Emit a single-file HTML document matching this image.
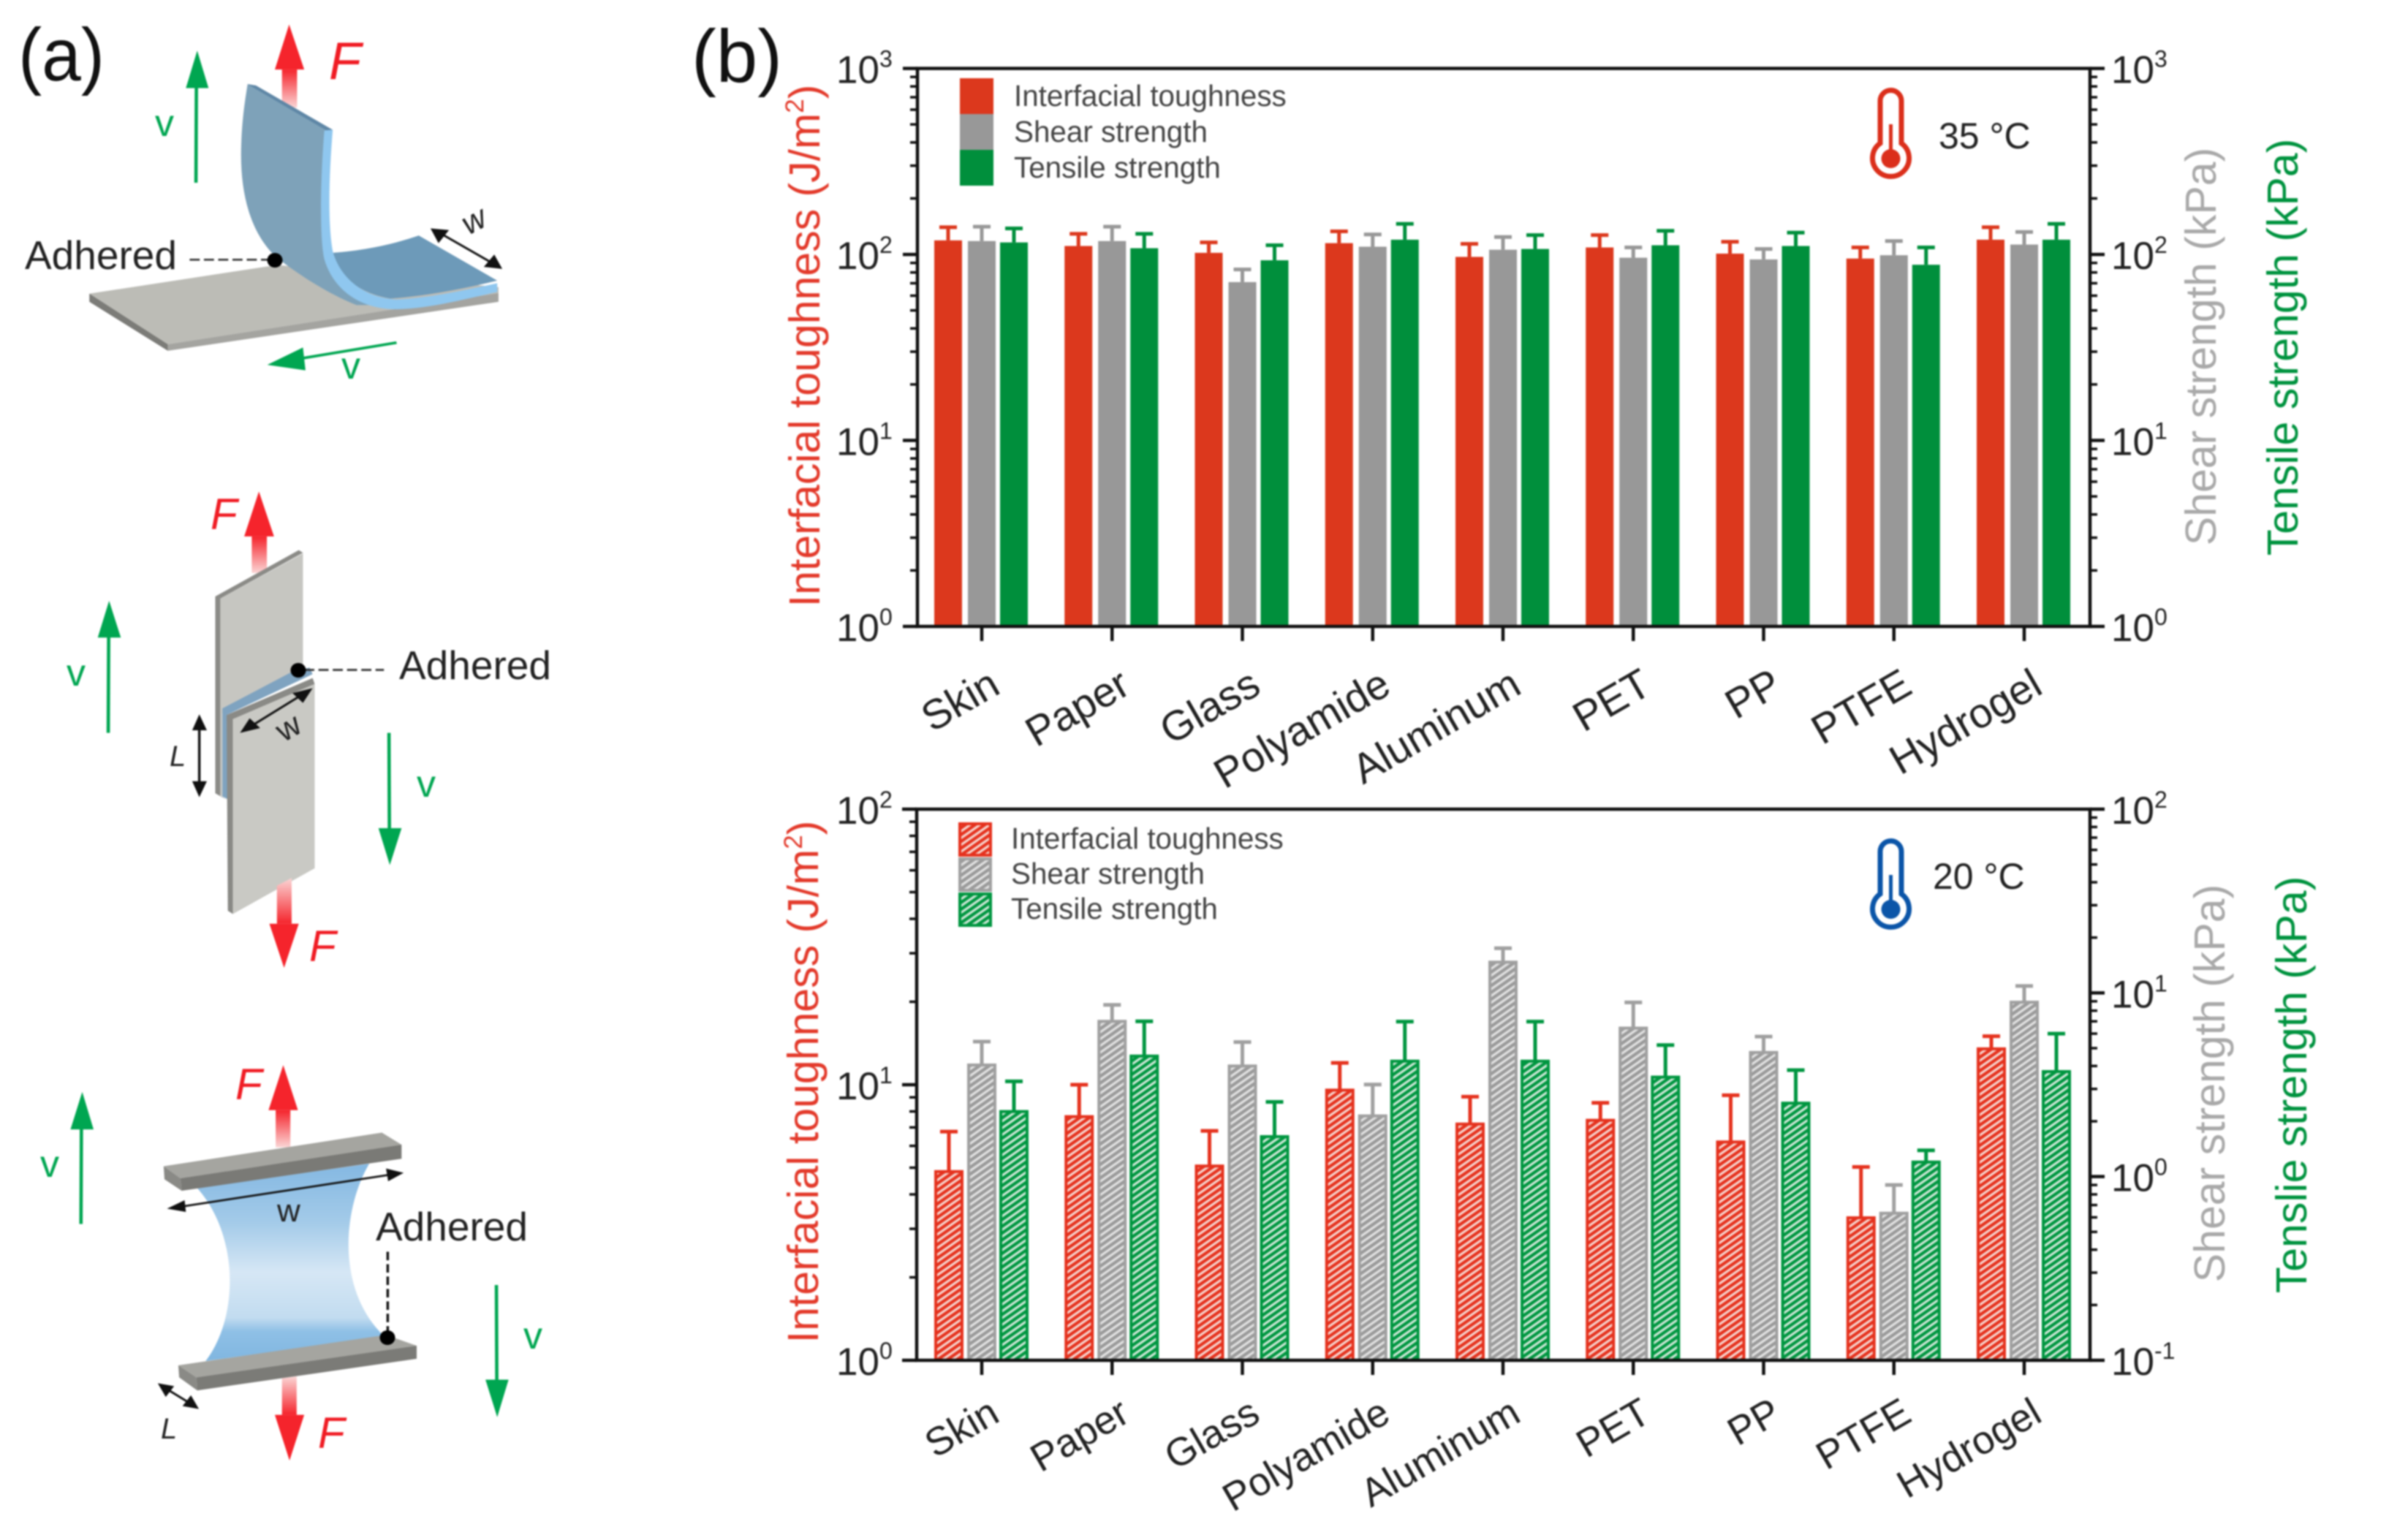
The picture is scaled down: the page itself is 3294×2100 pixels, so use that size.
<!DOCTYPE html>
<html>
<head>
<meta charset="utf-8">
<title>Adhesion test schematics and bar charts</title>
<style>
html,body{margin:0;padding:0;background:#fff;width:3294px;height:2100px;overflow:hidden}
svg{display:block;font-family:"Liberation Sans",sans-serif}
#root{filter:blur(1.1px)}
</style>
</head>
<body>
<svg id="figure" xmlns="http://www.w3.org/2000/svg" width="3294" height="2100" viewBox="0 0 3294 2100">
<defs>
<linearGradient id="fade-up" x1="0" y1="0" x2="0" y2="1"><stop offset="0" stop-color="#f5242c"/><stop offset="1" stop-color="#fbd5d5"/></linearGradient>
<linearGradient id="fade-down" x1="0" y1="0" x2="0" y2="1"><stop offset="0" stop-color="#fbd5d5"/><stop offset="1" stop-color="#f5242c"/></linearGradient>
<linearGradient id="gel" x1="0" y1="0" x2="0" y2="1">
<stop offset="0" stop-color="#84b8e2"/><stop offset="0.3" stop-color="#a4cbe9"/><stop offset="0.55" stop-color="#d6e7f5"/><stop offset="0.78" stop-color="#c2dcf0"/><stop offset="0.85" stop-color="#8fc0e6"/><stop offset="1" stop-color="#80b6e0"/>
</linearGradient>
<pattern id="hatch-red" patternUnits="userSpaceOnUse" width="7.6" height="7.6" patternTransform="rotate(55)"><rect width="7.6" height="7.6" fill="#f6d6d0"/><rect width="4.4" height="7.6" fill="#e5321e"/></pattern>
<pattern id="hatch-gray" patternUnits="userSpaceOnUse" width="7.6" height="7.6" patternTransform="rotate(55)"><rect width="7.6" height="7.6" fill="#e2e2e2"/><rect width="4.4" height="7.6" fill="#9a9a9a"/></pattern>
<pattern id="hatch-green" patternUnits="userSpaceOnUse" width="7.6" height="7.6" patternTransform="rotate(55)"><rect width="7.6" height="7.6" fill="#cfe8d8"/><rect width="4.4" height="7.6" fill="#009640"/></pattern>
</defs>
<rect width="3294" height="2100" fill="#fff"/>
<g id="root">

<text x="25" y="110" font-size="102" fill="#111" textLength="118" lengthAdjust="spacingAndGlyphs">(a)</text>
<text x="946" y="112" font-size="102" fill="#111" textLength="124" lengthAdjust="spacingAndGlyphs">(b)</text>

<!-- Peel test -->
<g>
<g transform="matrix(0.574,0,0,0.4464,0,0)">
<polygon points="672,213 708,213 708,330 672,330" fill="url(#fade-up)"/>
<polygon points="689,75 725,213 655,213" fill="#f5242c"/>
<polygon points="213,900 660,812 1188,880 1188,898 400,1055" fill="#bcbcb6"/>
<polygon points="213,900 400,1055 400,1075 213,925" fill="#7c7c78"/>
<polygon points="400,1055 1188,898 1188,925 400,1075" fill="#a4a4a0"/>
<path d="M790,775 Q900,765 998,722 L1185,860 Q1040,905 930,915 Q820,890 790,775 Z" fill="#6d9ab9"/>
<path d="M590,258 L610,262 L780,398 C772,520 765,690 780,770 C795,850 840,905 900,935 L850,935 C790,905 720,850 660,790 C600,720 570,600 575,440 C577,360 585,300 590,258 Z" fill="#7ea2b9"/>
<path d="M590,258 L610,262 L793,398 L778,400 Z" fill="#5f87a6"/>
<path d="M773,400 L793,398 C785,520 780,680 793,770 C810,850 865,912 945,918 C1030,912 1110,888 1185,868 L1185,895 C1110,915 1030,945 945,948 C860,948 795,890 773,795 C760,720 765,520 773,400 Z" fill="#8fc7ef"/>
<line x1="467" y1="560" x2="468" y2="265" stroke="#00a651" stroke-width="8"/>
<polygon points="470,155 497,270 443,270" fill="#00a651"/>
<line x1="945" y1="1050" x2="720" y2="1098" stroke="#00a651" stroke-width="8"/>
<polygon points="637,1118 722,1065 728,1135" fill="#00a651"/>
<line x1="452" y1="796" x2="640" y2="796" stroke="#333" stroke-width="6" stroke-dasharray="24 10"/>
<line x1="1040" y1="708" x2="1185" y2="815" stroke="#111" stroke-width="6"/>
<polygon points="1026,700 1070,705 1045,745" fill="#111"/>
<polygon points="1197,824 1153,818 1178,780" fill="#111"/>
</g>
<ellipse cx="376" cy="356" rx="10.5" ry="10" fill="#000"/>
<text x="450" y="108" font-size="72" font-style="italic" fill="#f01c24">F</text>
<text x="212" y="186" font-size="52" fill="#00a651">v</text>
<text x="467" y="518" font-size="52" fill="#00a651">v</text>
<text x="34" y="368" font-size="55" fill="#222">Adhered</text>
<text transform="translate(641,322) rotate(-28)" font-size="44" font-style="italic" fill="#222">w</text>
</g>

<!-- Lap shear -->
<g>
<g transform="matrix(0.574,0,0,0.4464,0,650)">
<polygon points="600,188 636,188 636,300 600,300" fill="url(#fade-up)"/>
<polygon points="617,50 653,188 582,188" fill="#f5242c"/>
<polygon points="525,378 722,240 722,600 530,730 530,985 525,980" fill="#c6c6c1"/>
<polygon points="513,372 712,230 722,238 525,378 525,982 540,995 513,975" fill="#8b8b87"/>
<polygon points="530,715 700,600 738,590 745,610 540,735 545,995 530,985" fill="#7fa3c0"/>
<polygon points="540,735 745,622 750,640 555,748 555,1345 543,1335" fill="#8a8a86"/>
<polygon points="555,748 750,640 750,1205 555,1345" fill="#c9c9c4"/>
<polygon points="660,1258 695,1235 695,1375 660,1375" fill="url(#fade-down)"/>
<polygon points="677,1510 642,1375 712,1375" fill="#f5242c"/>
<line x1="258" y1="790" x2="259" y2="490" stroke="#00a651" stroke-width="8"/>
<polygon points="260,385 288,498 233,498" fill="#00a651"/>
<line x1="927" y1="790" x2="928" y2="1090" stroke="#00a651" stroke-width="8"/>
<polygon points="929,1195 902,1082 957,1082" fill="#00a651"/>
<line x1="725" y1="597" x2="915" y2="597" stroke="#333" stroke-width="6" stroke-dasharray="24 10"/>
<line x1="590" y1="776" x2="730" y2="665" stroke="#111" stroke-width="6"/>
<polygon points="572,790 595,745 620,775" fill="#111"/>
<polygon points="745,653 722,698 697,668" fill="#111"/>
<line x1="475" y1="750" x2="475" y2="970" stroke="#111" stroke-width="6"/>
<polygon points="475,733 493,782 458,782" fill="#111"/>
<polygon points="475,987 493,938 458,938" fill="#111"/>
</g>
<ellipse cx="408" cy="917" rx="10.5" ry="10" fill="#000"/>
<text x="288" y="724" font-size="60" font-style="italic" fill="#f01c24">F</text>
<text x="423" y="1315" font-size="60" font-style="italic" fill="#f01c24">F</text>
<text x="91" y="938" font-size="52" fill="#00a651">v</text>
<text x="570" y="1090" font-size="52" fill="#00a651">v</text>
<text x="546" y="929" font-size="55" fill="#222">Adhered</text>
<text transform="translate(388,1016) rotate(-30)" font-size="44" fill="#222">w</text>
<text x="232" y="1048" font-size="40" font-style="italic" fill="#222">L</text>
</g>

<!-- Tensile -->
<g>
<g transform="matrix(0.574,0,0,0.4464,0,1400)">
<polygon points="657,266 692,266 692,380 657,380" fill="url(#fade-up)"/>
<polygon points="675,128 710,266 640,266" fill="#f5242c"/>
<path d="M470,505 L880,430 C820,560 800,800 905,945 L915,960 L490,1035 C570,900 570,650 470,505 Z" fill="url(#gel)"/>
<polygon points="390,438 910,335 957,372 430,475" fill="#a5a5a0"/>
<polygon points="430,475 957,372 957,415 433,513" fill="#7a7a76"/>
<polygon points="390,438 430,475 433,513 392,478" fill="#8a8a86"/>
<polygon points="425,1048 920,955 993,988 468,1085" fill="#a5a5a0"/>
<polygon points="468,1085 993,988 993,1028 470,1125" fill="#7b7b77"/>
<polygon points="425,1048 468,1085 470,1125 427,1085" fill="#8a8a86"/>
<polygon points="672,1088 707,1082 707,1200 672,1200" fill="url(#fade-down)"/>
<polygon points="690,1340 655,1200 725,1200" fill="#f5242c"/>
<line x1="420" y1="564" x2="940" y2="462" stroke="#111" stroke-width="6"/>
<polygon points="398,568 440,542 443,578" fill="#111"/>
<polygon points="962,458 920,445 925,484" fill="#111"/>
<line x1="924" y1="700" x2="924" y2="950" stroke="#111" stroke-width="6" stroke-dasharray="26 12"/>
<line x1="390" y1="1115" x2="460" y2="1170" stroke="#111" stroke-width="6"/>
<polygon points="376,1103 415,1112 395,1145" fill="#111"/>
<polygon points="474,1182 435,1173 455,1140" fill="#111"/>
<line x1="193" y1="615" x2="194" y2="320" stroke="#00a651" stroke-width="8"/>
<polygon points="196,210 223,325 168,325" fill="#00a651"/>
<line x1="1183" y1="802" x2="1184" y2="1098" stroke="#00a651" stroke-width="8"/>
<polygon points="1185,1207 1157,1092 1212,1092" fill="#00a651"/>
</g>
<ellipse cx="530" cy="1830" rx="10.5" ry="10" fill="#000"/>
<text x="322" y="1504" font-size="60" font-style="italic" fill="#f01c24">F</text>
<text x="435" y="1981" font-size="60" font-style="italic" fill="#f01c24">F</text>
<text x="55" y="1610" font-size="52" fill="#00a651">v</text>
<text x="716" y="1845" font-size="52" fill="#00a651">v</text>
<text x="514" y="1697" font-size="55" fill="#222">Adhered</text>
<text x="379" y="1671" font-size="44" fill="#222">w</text>
<text x="220" y="1968" font-size="40" font-style="italic" fill="#222">L</text>
</g>

<g id="charts"></g>
</g>
</svg>
<script>
const categories = ["Skin","Paper","Glass","Polyamide","Aluminum","PET","PP","PTFE","Hydrogel"];
const seriesNames = ["Interfacial toughness","Shear strength","Tensile strength"];

const hotToughness = [119,111,102,115,97,109,101,95,120];
const hotToughnessUpper = [140,129,116,133,114,127,117,109,140];
const hotShear = [118,118,71,110,106,96,94,99,113];
const hotShearUpper = [141,141,83,128,124,109,107,118,132];
const hotTensile = [116,108,93,120,107,112,111,88,120];
const hotTensileUpper = [138,129,112,146,127,134,131,109,146];

const coolToughness = [4.84,7.66,5.07,9.56,7.2,7.43,6.2,3.29,13.5];
const coolToughnessUpper = [6.76,10,6.8,12,9.05,8.6,9.16,5.03,15];
const coolShear = [4.05,7.0,4.0,2.14,14.7,6.43,4.74,0.632,8.9];
const coolShearUpper = [5.43,8.6,5.4,3.17,17.5,8.87,5.78,0.9,10.9];
const coolTensile = [2.26,4.53,1.65,4.25,4.25,3.48,2.51,1.2,3.73];
const coolTensileUpper = [3.3,7.0,2.55,6.98,6.98,5.2,3.8,1.39,6.0];

const hotLeftExponents = ["0","1","2","3"];
const hotRightExponents = ["0","1","2","3"];
const coolLeftExponents = ["0","1","2"];
const coolRightExponents = ["-1","0","1","2"];

const svgNS = "http://www.w3.org/2000/svg";
const chartsRoot = document.getElementById("charts");

function node(tag, attrs, parent){
  const el = document.createElementNS(svgNS, tag);
  for (const k in attrs) el.setAttribute(k, attrs[k]);
  parent.appendChild(el);
  return el;
}
function logScale(minExp, maxExp, yBottom, yTop){
  return v => yBottom - (Math.log10(v) - minExp) / (maxExp - minExp) * (yBottom - yTop);
}
function xScale(x0, step){
  return i => x0 + i * step;
}

function decadeAxis(parent, name, exponents, axisX, dir, scale, labelX, baselineOffset){
  const minE = Number(exponents[0]);
  const maxE = Number(exponents[exponents.length - 1]);
  for (let e = minE; e <= maxE; e++){
    const y = scale(Math.pow(10, e));
    const major = node("line", {x1:axisX, x2:axisX + dir * 20, y1:y, y2:y, stroke:"#111", "stroke-width":4.5}, parent);
    
    
    if (e < maxE) {
      for (let m = 2; m <= 9; m++){
        const my = scale(m * Math.pow(10, e));
        const minor = node("line", {x1:axisX, x2:axisX + dir * 10, y1:my, y2:my, stroke:"#111", "stroke-width":3.5}, parent);
        
        
      }
    }
  }
  exponents.forEach(exp => {
    const y = scale(Math.pow(10, Number(exp)));
    const t = node("text", {x:labelX, y:y + baselineOffset, "font-size":53, fill:"#222"}, parent);
    
    
    t.appendChild(document.createTextNode("10"));
    const s = node("tspan", {"font-size":32, dy:-22}, t);
    s.textContent = exp;
  });
}

function rotatedTitle(parent, name, x, y, color, before, sup, after){
  const t = node("text", {transform:"translate(" + x + "," + y + ") rotate(-90)", "text-anchor":"middle", "font-size":59, fill:color}, parent);
  
  
  t.appendChild(document.createTextNode(before));
  if (sup){
    const s = node("tspan", {"font-size":35, dy:-22}, t);
    s.textContent = sup;
    const a = node("tspan", {dy:22}, t);
    a.textContent = after;
  }
}

function drawBar(parent, name, x, width, value, upper, scale, baseY, color, fill, borderWidth){
  const top = scale(value);
  const errTop = scale(upper);
  const stem = node("line", {x1:x, x2:x, y1:top, y2:errTop, stroke:color, "stroke-width":5}, parent);
  
  
  const cap = node("line", {x1:x - 12, x2:x + 12, y1:errTop, y2:errTop, stroke:color, "stroke-width":5}, parent);
  
  
  const bar = node("rect", {x:x - width / 2 + borderWidth / 2, y:top, width:width - borderWidth, height:baseY - top, fill:fill, stroke:color, "stroke-width":borderWidth}, parent);
  
  
}

function thermometer(parent, name, dy, color){
  const g = node("g", {transform:"translate(0," + dy + ")", fill:"none", stroke:color}, parent);
  
  
  node("path", {d:"M2572 196 V138 a14.5 14.5 0 0 1 29 0 V196 A25 25 0 1 1 2572 196 Z", "stroke-width":7}, g);
  node("line", {x1:2586.5, x2:2586.5, y1:170, y2:210, "stroke-width":5}, g);
  node("circle", {cx:2586.5, cy:217, r:13, fill:color, stroke:"none"}, g);
}

function drawPanel(cfg){
  const g = node("g", {}, chartsRoot);
  
  
  const x = xScale(1343, 178.25);

  // bars
  const offsets = cfg.offsets;
  cfg.series.forEach((s, si) => {
    s.values.forEach((v, i) => {
      drawBar(g, cfg.name + "-" + s.key + "-bar-" + categories[i].toLowerCase(), x(i) + offsets[si], cfg.barWidth, v, s.upper[i], s.scale, cfg.bottom, s.color, s.fill, cfg.border);
    });
  });

  // frame
  const frame = node("path", {d:"M" + cfg.left + " " + cfg.bottom + " V" + cfg.top + " H" + cfg.right + " V" + cfg.bottom + " H" + cfg.left + " Z", fill:"none", stroke:"#111", "stroke-width":4.5}, g);
  
  

  // axes
  decadeAxis(g, cfg.name + "-left-axis", cfg.leftExp, cfg.left, -1, cfg.leftScale, 1144, 20);
  decadeAxis(g, cfg.name + "-right-axis", cfg.rightExp, cfg.right, 1, cfg.rightScale, 2888, 20);

  // category ticks & labels
  categories.forEach((c, i) => {
    const tick = node("line", {x1:x(i), x2:x(i), y1:cfg.bottom, y2:cfg.bottom + 20, stroke:"#111", "stroke-width":4.5}, g);
    
    
    const lab = node("text", {transform:"translate(" + (x(i) + cfg.labelDx) + "," + (cfg.bottom + cfg.labelDy) + ") rotate(-30)", "text-anchor":"end", "font-size":cfg.labelSize, fill:"#222"}, g);
    
    
    lab.textContent = c;
  });

  // legend
  cfg.series.forEach((s, si) => {
    const sw = node("rect", {x:cfg.legendX + cfg.border / 2, y:cfg.legendY[si] + cfg.border / 2, width:46 - cfg.border, height:cfg.legendH - cfg.border, fill:s.fill, stroke:s.color, "stroke-width":cfg.border}, g);
    
    
    const tx = node("text", {x:cfg.legendTextX, y:cfg.legendBase[si], "font-size":40.4, fill:"#444"}, g);
    
    
    tx.textContent = seriesNames[si];
  });

  // titles
  rotatedTitle(g, cfg.name + "-toughness-title", cfg.titleLeft, cfg.titleLeftY, "#e33a2b", "Interfacial toughness (J/m", "2", ")");
  rotatedTitle(g, cfg.name + "-shear-title", cfg.titleShear, cfg.titleShearY, "#a9a9a9", "Shear strength (kPa)");
  rotatedTitle(g, cfg.name + "-tensile-title", cfg.titleTensile, cfg.titleTensileY, "#00933f", cfg.tensileText);

  // temperature
  thermometer(g, cfg.name + "-thermometer-icon", cfg.thermoDy, cfg.thermoColor);
  const temp = node("text", {x:cfg.tempX, y:cfg.tempY, "font-size":50, fill:"#222"}, g);
  
  
  temp.textContent = cfg.tempText;
}

const hotScale = logScale(0, 3, 857, 93.6);
drawPanel({
  name:"chart-35c", left:1255, right:2859, top:93.6, bottom:857,
  barWidth:38, border:0, offsets:[-46,0,44],
  leftExp:hotLeftExponents, rightExp:hotRightExponents, leftScale:hotScale, rightScale:hotScale,
  series:[
    {key:"toughness", values:hotToughness, upper:hotToughnessUpper, scale:hotScale, color:"#dc381d", fill:"#dc381d"},
    {key:"shear", values:hotShear, upper:hotShearUpper, scale:hotScale, color:"#989898", fill:"#989898"},
    {key:"tensile", values:hotTensile, upper:hotTensileUpper, scale:hotScale, color:"#008f3c", fill:"#008f3c"}
  ],
  labelDx:28, labelDy:90, labelSize:57,
  legendX:1313, legendY:[107,156,205], legendH:49, legendTextX:1387, legendBase:[145,194,243],
  titleLeft:1121, titleLeftY:473, titleShear:3031, titleShearY:474, titleTensile:3143, titleTensileY:475,
  tensileText:"Tensile strength (kPa)",
  thermoDy:0, thermoColor:"#db2f1b", tempX:2652, tempY:203, tempText:"35 \u00B0C"
});

const coolLeft = logScale(0, 2, 1861, 1107);
const coolRight = logScale(-1, 2, 1861, 1107);
drawPanel({
  name:"chart-20c", left:1254, right:2859, top:1107, bottom:1861,
  barWidth:40, border:4, offsets:[-45,0,44],
  leftExp:coolLeftExponents, rightExp:coolRightExponents, leftScale:coolLeft, rightScale:coolRight,
  series:[
    {key:"toughness", values:coolToughness, upper:coolToughnessUpper, scale:coolLeft, color:"#e5321e", fill:"url(#hatch-red)"},
    {key:"shear", values:coolShear, upper:coolShearUpper, scale:coolRight, color:"#a0a0a0", fill:"url(#hatch-gray)"},
    {key:"tensile", values:coolTensile, upper:coolTensileUpper, scale:coolRight, color:"#009640", fill:"url(#hatch-green)"}
  ],
  labelDx:27, labelDy:82, labelSize:54,
  legendX:1311, legendY:[1125,1173,1221], legendH:47, legendTextX:1383, legendBase:[1161,1209,1257],
  titleLeft:1119, titleLeftY:1480, titleShear:3043, titleShearY:1482, titleTensile:3155, titleTensileY:1484,
  tensileText:"Tenslie strength (kPa)",
  thermoDy:1027, thermoColor:"#0b55a8", tempX:2644, tempY:1216, tempText:"20 \u00B0C"
});
</script>
</body>
</html>
